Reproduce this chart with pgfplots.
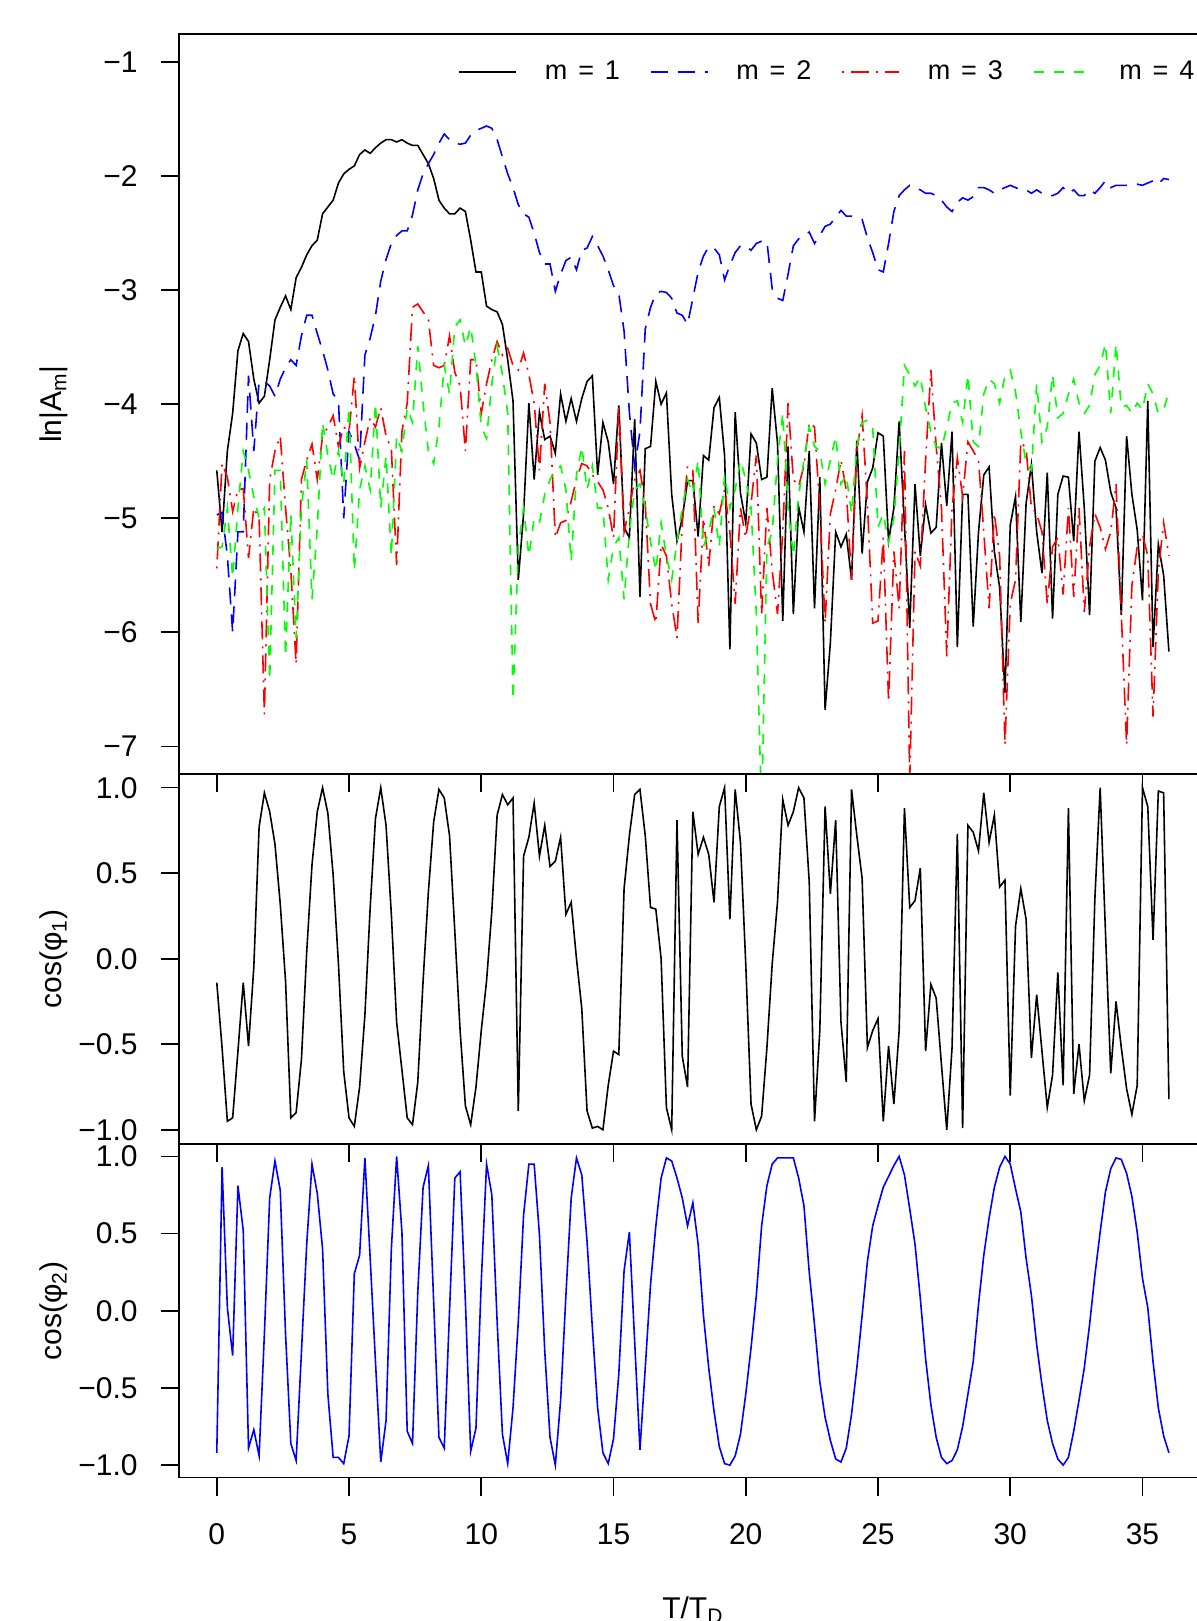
\documentclass[border=0pt]{standalone}
\usepackage{fontspec}
\setmainfont{Liberation Sans}
\usepackage{pgfplots}
\usepackage{pgfplotstable}
\pgfplotsset{compat=1.18}

\definecolor{rblue}{RGB}{0,0,255}
\definecolor{rred}{RGB}{255,0,0}
\definecolor{rgreen}{RGB}{0,255,0}

% ln|A_m| for m = 1..4
\pgfplotstableread{
t a1 a2 a3 a4
0.0 -4.58 -4.97 -5.44 -5.27
0.2 -5.12 -4.95 -4.52 -5.25
0.4 -4.41 -5.33 -4.64 -4.91
0.6 -4.08 -6.00 -4.94 -5.52
0.8 -3.53 -5.12 -4.75 -4.91
1.0 -3.38 -5.12 -4.74 -4.41
1.2 -3.45 -3.75 -5.35 -4.58
1.4 -3.78 -4.41 -4.91 -4.81
1.6 -3.99 -3.80 -5.00 -5.00
1.8 -3.93 -3.80 -6.72 -4.91
2.0 -3.61 -3.84 -4.66 -6.42
2.2 -3.26 -3.93 -4.41 -4.58
2.4 -3.15 -3.78 -4.28 -4.58
2.6 -3.05 -3.68 -4.91 -6.21
2.8 -3.17 -3.61 -5.46 -4.96
3.0 -2.89 -3.66 -6.28 -6.05
3.2 -2.80 -3.40 -4.66 -4.91
3.4 -2.69 -3.22 -4.49 -4.49
3.6 -2.61 -3.22 -4.35 -5.71
3.8 -2.56 -3.38 -4.66 -5.08
4.0 -2.33 -3.53 -4.28 -4.16
4.2 -2.27 -3.70 -4.20 -4.45
4.4 -2.21 -3.91 -4.10 -4.66
4.6 -2.06 -3.97 -4.37 -4.41
4.8 -1.98 -5.00 -4.20 -4.70
5.0 -1.94 -4.24 -4.24 -4.03
5.2 -1.91 -4.35 -3.75 -5.46
5.4 -1.81 -4.49 -4.56 -4.75
5.6 -1.77 -3.57 -4.33 -4.54
5.8 -1.80 -3.42 -4.12 -4.75
6.0 -1.75 -3.22 -4.20 -3.99
6.2 -1.71 -2.92 -4.03 -4.91
6.4 -1.68 -2.73 -4.28 -4.45
6.6 -1.68 -2.59 -4.39 -5.33
6.8 -1.70 -2.52 -5.41 -4.28
7.0 -1.68 -2.48 -4.24 -4.41
7.2 -1.71 -2.48 -3.99 -4.03
7.4 -1.73 -2.34 -3.15 -4.16
7.6 -1.73 -2.12 -3.12 -3.49
7.8 -1.81 -1.98 -3.19 -3.99
8.0 -1.89 -1.89 -3.26 -4.41
8.2 -2.02 -1.81 -3.66 -4.52
8.4 -2.21 -1.71 -3.68 -4.20
8.6 -2.28 -1.63 -3.66 -3.66
8.8 -2.33 -1.68 -3.40 -3.91
9.0 -2.33 -1.71 -3.72 -3.32
9.2 -2.28 -1.72 -3.84 -3.26
9.4 -2.31 -1.71 -4.41 -3.49
9.6 -2.56 -1.64 -3.61 -3.32
9.8 -2.84 -1.60 -3.61 -3.66
10.0 -2.84 -1.58 -4.08 -4.20
10.2 -3.14 -1.56 -3.82 -4.30
10.4 -3.17 -1.58 -3.61 -3.82
10.6 -3.19 -1.68 -3.45 -3.49
10.8 -3.30 -1.83 -3.57 -3.74
11.0 -3.61 -1.98 -3.51 -4.08
11.2 -3.97 -2.10 -3.66 -6.59
11.4 -5.54 -2.25 -3.70 -5.25
11.6 -4.96 -2.33 -3.55 -4.91
11.8 -3.99 -2.36 -3.74 -5.33
12.0 -4.66 -2.50 -3.99 -5.00
12.2 -4.07 -2.67 -4.58 -5.04
12.4 -4.31 -2.77 -3.82 -4.79
12.6 -4.28 -2.77 -4.16 -4.66
12.8 -4.43 -3.01 -5.17 -4.58
13.0 -3.91 -2.86 -5.04 -4.54
13.2 -4.15 -2.74 -5.02 -4.75
13.4 -3.95 -2.71 -4.85 -5.38
13.6 -4.15 -2.82 -4.66 -4.62
13.8 -3.95 -2.65 -4.52 -4.37
14.0 -3.80 -2.63 -4.54 -4.75
14.2 -3.75 -2.53 -4.62 -4.54
14.4 -4.62 -2.61 -4.68 -4.91
14.6 -4.16 -2.70 -4.75 -4.91
14.8 -4.33 -2.82 -4.91 -5.54
15.0 -4.70 -2.96 -5.17 -5.25
15.2 -4.01 -3.03 -4.03 -5.17
15.4 -5.08 -3.36 -5.12 -5.71
15.6 -5.17 -4.07 -4.91 -5.12
15.8 -4.13 -4.55 -4.66 -4.75
16.0 -5.69 -4.24 -4.58 -4.70
16.2 -4.39 -3.34 -4.87 -4.91
16.4 -4.37 -3.15 -5.75 -5.21
16.6 -3.80 -3.03 -5.92 -5.46
16.8 -4.00 -3.01 -5.23 -5.04
17.0 -3.90 -3.02 -5.33 -5.33
17.2 -4.79 -3.07 -5.75 -5.54
17.4 -5.20 -3.20 -6.05 -5.21
17.6 -5.00 -3.22 -5.04 -4.91
17.8 -4.67 -3.30 -4.54 -4.66
18.0 -4.67 -3.07 -4.58 -4.79
18.2 -5.16 -2.84 -5.92 -4.49
18.4 -4.45 -2.70 -5.00 -5.25
18.6 -4.49 -2.62 -5.42 -5.12
18.8 -4.03 -2.63 -4.89 -4.91
19.0 -3.94 -2.69 -4.96 -5.25
19.2 -4.45 -2.91 -4.75 -4.62
19.4 -6.15 -2.78 -5.12 -4.91
19.6 -4.07 -2.67 -5.75 -4.75
19.8 -4.78 -2.61 -4.91 -4.49
20.0 -5.04 -2.61 -5.17 -4.66
20.2 -4.26 -2.65 -4.87 -4.91
20.4 -4.34 -2.59 -4.45 -5.84
20.6 -4.66 -2.57 -5.84 -7.60
20.8 -4.64 -2.57 -4.91 -5.25
21.0 -3.86 -2.99 -5.46 -5.12
21.2 -4.34 -3.07 -5.84 -4.49
21.4 -5.90 -3.09 -5.12 -4.08
21.6 -4.37 -2.86 -3.99 -4.91
21.8 -5.84 -2.61 -4.66 -5.33
22.0 -4.90 -2.55 -4.72 -4.80
22.2 -5.12 -2.52 -4.54 -4.49
22.4 -4.41 -2.49 -4.16 -4.20
22.6 -5.79 -2.59 -4.20 -4.37
22.8 -4.64 -2.52 -4.91 -4.41
23.0 -6.68 -2.44 -5.92 -4.70
23.2 -6.09 -2.42 -4.96 -4.49
23.4 -5.12 -2.36 -4.75 -4.28
23.6 -5.25 -2.30 -4.49 -4.70
23.8 -5.14 -2.35 -4.75 -4.62
24.0 -5.54 -2.35 -5.54 -4.96
24.2 -4.32 -2.37 -4.41 -4.37
24.4 -5.31 -2.38 -4.10 -4.16
24.6 -4.68 -2.54 -4.87 -4.14
24.8 -4.56 -2.67 -5.92 -4.20
25.0 -4.25 -2.82 -5.90 -5.08
25.2 -4.28 -2.84 -5.17 -4.96
25.4 -5.20 -2.59 -6.61 -5.21
25.6 -4.91 -2.31 -5.29 -5.00
25.8 -4.15 -2.17 -5.79 -4.41
26.0 -5.06 -2.12 -4.41 -3.66
26.2 -5.96 -2.08 -7.30 -3.74
26.4 -4.70 -2.10 -5.29 -3.84
26.6 -5.33 -2.12 -5.42 -3.76
26.8 -4.88 -2.15 -4.49 -4.03
27.0 -5.13 -2.15 -3.70 -4.24
27.2 -5.08 -2.17 -4.37 -4.37
27.4 -4.34 -2.21 -4.91 -4.39
27.6 -4.89 -2.27 -6.21 -4.20
27.8 -4.24 -2.31 -4.91 -3.99
28.0 -6.13 -2.23 -4.47 -3.97
28.2 -4.79 -2.19 -4.81 -4.16
28.4 -4.79 -2.21 -4.33 -3.74
28.6 -5.95 -2.18 -4.41 -4.33
28.8 -5.12 -2.10 -4.49 -4.37
29.0 -4.62 -2.10 -5.12 -3.91
29.2 -4.55 -2.12 -5.79 -3.78
29.4 -5.29 -2.15 -4.96 -3.82
29.6 -5.61 -2.12 -5.33 -3.99
29.8 -6.53 -2.10 -6.99 -3.75
30.0 -5.06 -2.08 -5.75 -3.70
30.2 -4.81 -2.10 -5.54 -3.89
30.4 -5.91 -2.12 -4.33 -4.24
30.6 -4.87 -2.12 -4.39 -4.52
30.8 -4.53 -2.15 -4.91 -4.58
31.0 -5.12 -2.12 -4.96 -3.82
31.2 -5.48 -2.15 -5.12 -4.33
31.4 -4.60 -2.17 -5.75 -4.20
31.6 -5.88 -2.17 -5.25 -3.74
31.8 -4.79 -2.15 -5.17 -4.12
32.0 -4.63 -2.10 -5.67 -4.08
32.2 -4.64 -2.15 -4.91 -3.91
32.4 -5.20 -2.12 -5.69 -3.78
32.6 -4.24 -2.17 -4.91 -3.99
32.8 -4.91 -2.17 -5.82 -4.08
33.0 -5.85 -2.12 -5.25 -4.01
33.2 -4.50 -2.15 -4.96 -3.74
33.4 -4.38 -2.10 -5.08 -3.66
33.6 -4.49 -2.04 -5.27 -3.47
33.8 -4.77 -2.10 -5.12 -4.08
34.0 -4.91 -2.08 -4.70 -3.47
34.2 -5.85 -2.08 -5.84 -4.03
34.4 -4.28 -2.08 -6.99 -4.01
34.6 -4.79 -2.07 -5.59 -4.08
34.8 -5.10 -2.07 -5.25 -3.99
35.0 -5.72 -2.08 -5.14 -4.05
35.2 -3.97 -2.06 -5.33 -3.82
35.4 -6.13 -2.04 -6.74 -3.91
35.6 -5.23 -2.07 -5.46 -4.08
35.8 -5.50 -2.02 -5.04 -4.05
36.0 -6.17 -2.03 -5.33 -3.89
}\amp

% cos(phi_1), cos(phi_2)
\pgfplotstableread{
t c1 c2
0.0 -0.14 -0.92
0.2 -0.52 0.93
0.4 -0.95 0.02
0.6 -0.93 -0.29
0.8 -0.54 0.81
1.0 -0.14 0.52
1.2 -0.51 -0.89
1.4 -0.05 -0.77
1.6 0.77 -0.94
1.8 0.97 -0.15
2.0 0.86 0.73
2.2 0.67 0.97
2.4 0.32 0.78
2.6 -0.13 -0.15
2.8 -0.93 -0.86
3.0 -0.90 -0.97
3.2 -0.59 -0.27
3.4 0.04 0.43
3.6 0.55 0.95
3.8 0.86 0.76
4.0 1.00 0.40
4.2 0.85 -0.54
4.4 0.49 -0.95
4.6 -0.03 -0.95
4.8 -0.66 -0.99
5.0 -0.93 -0.81
5.2 -0.98 0.24
5.4 -0.75 0.36
5.6 -0.33 0.99
5.8 0.30 0.34
6.0 0.82 -0.33
6.2 1.00 -0.98
6.4 0.78 -0.71
6.6 0.26 0.40
6.8 -0.37 1.00
7.0 -0.65 0.51
7.2 -0.93 -0.78
7.4 -0.97 -0.86
7.6 -0.72 0.12
7.8 -0.13 0.80
8.0 0.39 0.94
8.2 0.80 0.06
8.4 0.99 -0.82
8.6 0.94 -0.89
8.8 0.72 0.00
9.0 0.16 0.86
9.2 -0.42 0.90
9.4 -0.86 0.06
9.6 -0.97 -0.91
9.8 -0.75 -0.76
10.0 -0.42 0.19
10.2 -0.13 0.95
10.4 0.28 0.75
10.6 0.84 -0.07
10.8 0.96 -0.80
11.0 0.90 -0.99
11.2 0.94 -0.63
11.4 -0.89 -0.07
11.6 0.60 0.62
11.8 0.71 0.95
12.0 0.91 0.95
12.2 0.60 0.49
12.4 0.78 -0.26
12.6 0.54 -0.82
12.8 0.57 -1.00
13.0 0.71 -0.58
13.2 0.26 0.10
13.4 0.33 0.73
13.6 0.00 0.99
13.8 -0.29 0.88
14.0 -0.89 0.45
14.2 -0.99 -0.11
14.4 -0.98 -0.63
14.6 -1.00 -0.92
14.8 -0.74 -0.99
15.0 -0.54 -0.83
15.2 -0.56 -0.41
15.4 0.41 0.26
15.6 0.72 0.51
15.8 0.96 -0.20
16.0 0.99 -0.90
16.2 0.72 -0.37
16.4 0.30 0.17
16.6 0.29 0.55
16.8 0.00 0.86
17.0 -0.87 0.99
17.2 -1.00 0.97
17.4 0.81 0.86
17.6 -0.57 0.73
17.8 -0.75 0.55
18.0 0.86 0.70
18.2 0.61 0.43
18.4 0.71 -0.03
18.6 0.61 -0.37
18.8 0.33 -0.65
19.0 0.89 -0.88
19.2 1.00 -0.99
19.4 0.23 -1.00
19.6 0.99 -0.94
19.8 0.68 -0.80
20.0 -0.03 -0.54
20.2 -0.85 -0.24
20.4 -1.00 0.10
20.6 -0.92 0.55
20.8 -0.52 0.81
21.0 -0.03 0.95
21.2 0.33 0.99
21.4 0.93 0.99
21.6 0.78 0.99
21.8 0.86 0.99
22.0 1.00 0.86
22.2 0.94 0.68
22.4 0.45 0.25
22.6 -0.95 -0.09
22.8 -0.42 -0.46
23.0 0.89 -0.69
23.2 0.38 -0.84
23.4 0.81 -0.96
23.6 -0.37 -0.98
23.8 -0.72 -0.89
24.0 0.99 -0.67
24.2 0.72 -0.37
24.4 0.47 -0.03
24.6 -0.52 0.32
24.8 -0.42 0.55
25.0 -0.35 0.68
25.2 -0.95 0.80
25.4 -0.51 0.87
25.6 -0.85 0.94
25.8 -0.42 1.00
26.0 0.88 0.88
26.2 0.30 0.66
26.4 0.34 0.43
26.6 0.53 0.08
26.8 -0.54 -0.31
27.0 -0.15 -0.61
27.2 -0.23 -0.82
27.4 -0.62 -0.95
27.6 -1.00 -0.99
27.8 -0.52 -0.97
28.0 0.73 -0.90
28.2 -0.99 -0.75
28.4 0.78 -0.54
28.6 0.74 -0.33
28.8 0.63 0.04
29.0 0.97 0.36
29.2 0.68 0.60
29.4 0.84 0.80
29.6 0.42 0.93
29.8 0.46 1.00
30.0 -0.80 0.95
30.2 0.19 0.79
30.4 0.41 0.64
30.6 0.23 0.34
30.8 -0.58 0.10
31.0 -0.21 -0.22
31.2 -0.54 -0.48
31.4 -0.87 -0.71
31.6 -0.68 -0.86
31.8 -0.08 -0.96
32.0 -0.74 -1.00
32.2 0.88 -0.95
32.4 -0.79 -0.78
32.6 -0.50 -0.58
32.8 -0.83 -0.37
33.0 -0.68 -0.09
33.2 0.35 0.23
33.4 1.00 0.51
33.6 0.16 0.77
33.8 -0.67 0.92
34.0 -0.25 0.99
34.2 -0.52 0.98
34.4 -0.76 0.89
34.6 -0.91 0.74
34.8 -0.74 0.51
35.0 1.00 0.21
35.2 0.89 0.02
35.4 0.11 -0.33
35.6 0.98 -0.63
35.8 0.97 -0.81
36.0 -0.82 -0.92
}\phase

\pgfplotsset{
  panel/.style={
    scale only axis, anchor=north west,
    width=514.15pt, xmin=-1.44, xmax=37.44,
    axis line style={line width=0.8pt},
    every tick/.style={black, line width=0.8pt},
    tick align=outside, major tick length=9pt,
    xtick={0,5,...,35}, xticklabels={},
    xtick pos=lower, ytick pos=left,
    tick label style={font=\fontsize{15}{18}\selectfont},
    yticklabel style={anchor=east, inner sep=0pt, xshift=-11.35pt},
    label style={font=\fontsize{15}{18}\selectfont},
    ylabel style={at={(axis description cs:-0.1135,0.5)}, anchor=base},
    every axis plot/.append style={line width=0.8pt},
  },
}

\begin{document}
\begin{tikzpicture}
\begin{axis}[panel, at={(89.35pt,-17pt)}, height=370pt,
  ymin=-7.243, ymax=-0.753,
  ytick={-7,-6,-5,-4,-3,-2,-1},
  yticklabels={−7,−6,−5,−4,−3,−2,−1},
  ylabel={ln|A\textsubscript{m}|},
  legend columns=4, legend cell align=left,
  legend image code/.code={\draw[#1] (0pt,0pt) -- (28.5pt,0pt);},
  legend style={draw=none, fill=none, inner sep=0pt,
    at={(axis description cs:0.2716,0.9486)}, anchor=west,
    font=\fontsize{13.5}{16}\selectfont,
    nodes={inner sep=0pt},
    /tikz/every odd column/.append style={column sep=14pt},
    /tikz/every even column/.append style={column sep=15pt}},
]
\addplot[black] table[x=t, y=a1] {\amp};
\addlegendentry{m\hspace{0.4em}=\hspace{0.4em}1}
\addplot[rblue, dash pattern=on 8.5pt off 5pt] table[x=t, y=a2] {\amp};
\addlegendentry{m\hspace{0.4em}=\hspace{0.4em}2}
\addplot[rred, dash pattern=on 1pt off 3.5pt on 9pt off 3.5pt] table[x=t, y=a3] {\amp};
\addlegendentry{m\hspace{0.4em}=\hspace{0.4em}3}
\addplot[rgreen, dash pattern=on 5pt off 5pt] table[x=t, y=a4] {\amp};
\addlegendentry{m\hspace{0.4em}=\hspace{0.4em}4}
\end{axis}

\begin{axis}[panel, at={(89.35pt,-387pt)}, height=184.75pt,
  ymin=-1.08, ymax=1.08,
  ytick={-1,-0.5,0,0.5,1},
  yticklabels={−1.0,−0.5,0.0,0.5,1.0},
  ylabel={cos(φ\textsubscript{1})},
]
\addplot[black] table[x=t, y=c1] {\phase};
\end{axis}

\begin{axis}[panel, at={(89.35pt,-572pt)}, height=166.75pt,
  ymin=-1.08, ymax=1.08,
  ytick={-1,-0.5,0,0.5,1},
  yticklabels={−1.0,−0.5,0.0,0.5,1.0},
  xticklabels={0,5,10,15,20,25,30,35},
  xticklabel style={anchor=base, inner sep=0pt, yshift=-24.25pt},
  ylabel={cos(φ\textsubscript{2})},
  xlabel={T/T\textsubscript{D}},
  xlabel style={at={(axis description cs:0.5,-0.4234)}, anchor=base},
]
\addplot[rblue] table[x=t, y=c2] {\phase};
\end{axis}

\pgfresetboundingbox
\useasboundingbox (0,0) rectangle (598.5pt,-810.5pt);
\end{tikzpicture}
\end{document}
